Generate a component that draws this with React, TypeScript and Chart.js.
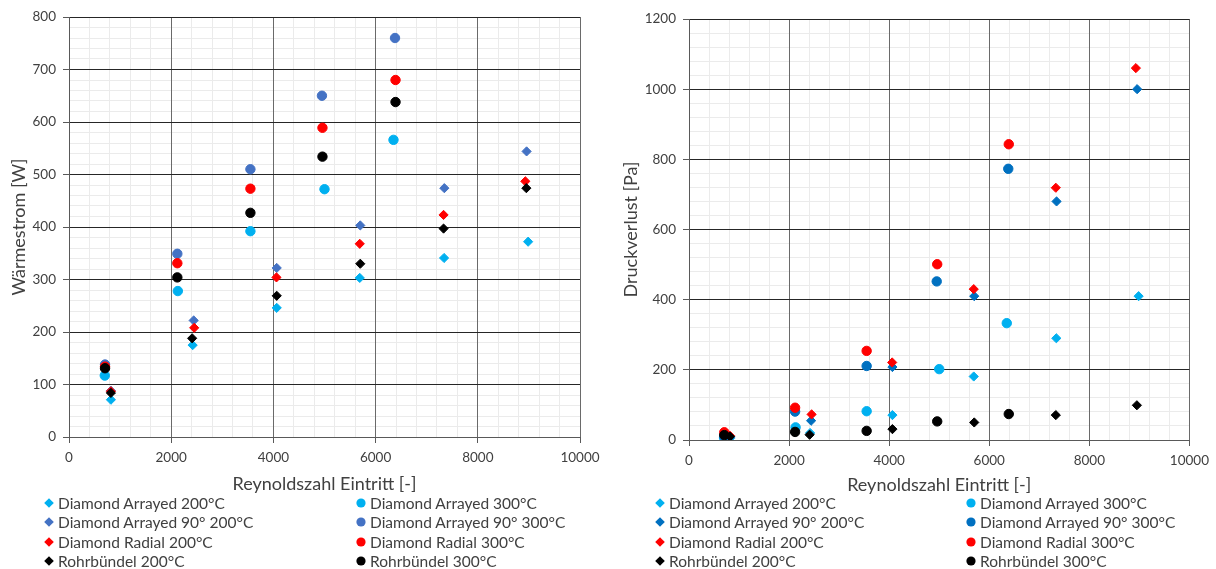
import React, { useEffect, useRef } from "react";
import { Chart, registerables } from "chart.js";

Chart.register(...registerables);

// ---------- data ----------
const SERIES_LABELS = [
  "Diamond Arrayed 200°C",
  "Diamond Arrayed 300°C",
  "Diamond Arrayed 90° 200°C",
  "Diamond Arrayed 90° 300°C",
  "Diamond Radial 200°C",
  "Diamond Radial 300°C",
  "Rohrbündel 200°C",
  "Rohrbündel 300°C",
];

// Reynoldszahl Eintritt per series
const RE_DA_200 = [820, 2420, 4065, 5690, 7340, 8985];
const RE_DA_300 = [700, 2130, 3550, 5000, 6350];
const RE_DA90_200 = [820, 2440, 4065, 5700, 7345, 8955];
const RE_DA90_300 = [705, 2120, 3550, 4950, 6380];
const RE_DR_200 = [820, 2450, 4060, 5690, 7330, 8930];
const RE_DR_300 = [705, 2120, 3550, 4960, 6390];
const RE_RB_200 = [820, 2410, 4065, 5700, 7330, 8950];
const RE_RB_300 = [705, 2120, 3550, 4960, 6390];

// Wärmestrom [W]
const HEAT_DA_200 = [71, 175, 246, 303, 341, 372];
const HEAT_DA_300 = [117, 278, 392, 472, 566];
const HEAT_DA90_200 = [88, 222, 322, 403, 474, 544];
const HEAT_DA90_300 = [138, 349, 510, 650, 760];
const HEAT_DR_200 = [87, 208, 304, 368, 423, 487];
const HEAT_DR_300 = [134, 331, 473, 589, 680];
const HEAT_RB_200 = [84, 188, 269, 330, 397, 474];
const HEAT_RB_300 = [131, 304, 427, 534, 638];

// Druckverlust [Pa]
const DP_DA_200 = [5, 20, 71, 181, 290, 410];
const DP_DA_300 = [6, 36, 82, 202, 333];
const DP_DA90_200 = [8, 55, 208, 410, 680, 1000];
const DP_DA90_300 = [10, 81, 211, 452, 773];
const DP_DR_200 = [12, 73, 221, 430, 719, 1060];
const DP_DR_300 = [22, 92, 254, 501, 843];
const DP_RB_200 = [10, 15, 31, 50, 71, 99];
const DP_RB_300 = [14, 23, 26, 53, 74];

const RE_SERIES = [RE_DA_200, RE_DA_300, RE_DA90_200, RE_DA90_300, RE_DR_200, RE_DR_300, RE_RB_200, RE_RB_300];
const HEAT_SERIES = [HEAT_DA_200, HEAT_DA_300, HEAT_DA90_200, HEAT_DA90_300, HEAT_DR_200, HEAT_DR_300, HEAT_RB_200, HEAT_RB_300];
const DP_SERIES = [DP_DA_200, DP_DA_300, DP_DA90_200, DP_DA90_300, DP_DR_200, DP_DR_300, DP_RB_200, DP_RB_300];

const X_TICK_MAJOR = 2000;
const X_TICK_MINOR = 400;
const X_MAX = 10000;

// ---------- styles ----------
const FONT = "Lato, 'Open Sans', sans-serif";
const TEXT = "#404040";
const CYAN = "#00B0F0";
const RED = "#FF0000";
const BLACK = "#000000";
const BLUE_LEFT = "#4472C4";
const BLUE_RIGHT = "#0070C0";
const MINOR_GRID = "#EBEBEB";

const colorsFor = (blue: string) => [CYAN, CYAN, blue, blue, RED, RED, BLACK, BLACK];
const styles = ["rectRot", "circle", "rectRot", "circle", "rectRot", "circle", "rectRot", "circle"];

type PanelCfg = {
  left: number;
  width: number;
  height: number;
  ySeries: number[][];
  yMax: number;
  yMajor: number;
  yMinor: number;
  yTitle: string;
  blue: string;
  padTop: number;
  padRight: number;
  yAxisWidth: number;
  xAxisHeight: number;
  yTitlePad: number;
  xTitlePadBottom: number;
};

function Panel({ cfg }: { cfg: PanelCfg }) {
  const ref = useRef<HTMLCanvasElement>(null);
  useEffect(() => {
    const colors = colorsFor(cfg.blue);
    const datasets = SERIES_LABELS.map((label, i) => ({
      label,
      data: RE_SERIES[i].map((x, j) => ({ x, y: cfg.ySeries[i][j] })),
      pointStyle: styles[i],
      pointRadius: styles[i] === "circle" ? 4.7 : 4.6,
      pointBorderWidth: 1,
      backgroundColor: colors[i],
      borderColor: colors[i],
      order: SERIES_LABELS.length - i,
      xAxisID: "x",
      yAxisID: "y",
    }));
    const tickFont = { family: FONT, size: 13.5 };
    const titleFont = { family: FONT, size: 18 };
    const chart = new Chart(ref.current as HTMLCanvasElement, {
      type: "scatter",
      data: { datasets } as any,
      options: {
        responsive: false,
        maintainAspectRatio: false,
        animation: false,
        layout: { padding: { top: cfg.padTop, right: cfg.padRight, left: 0, bottom: 0 } },
        plugins: { legend: { display: false }, tooltip: { enabled: false } },
        scales: {
          xMinor: {
            type: "linear",
            position: "bottom",
            min: 0,
            max: X_MAX,
            z: -2,
            ticks: { display: false, stepSize: X_TICK_MINOR, autoSkip: false },
            grid: { color: MINOR_GRID, drawTicks: false, lineWidth: 1 },
            border: { display: false },
            afterFit: (s: any) => {
              s.height = 0;
            },
          },
          yMinor: {
            type: "linear",
            position: "left",
            min: 0,
            max: cfg.yMax,
            z: -2,
            ticks: { display: false, stepSize: cfg.yMinor, autoSkip: false },
            grid: { color: MINOR_GRID, drawTicks: false, lineWidth: 1 },
            border: { display: false },
            afterFit: (s: any) => {
              s.width = 0;
            },
          },
          x: {
            type: "linear",
            position: "bottom",
            min: 0,
            max: X_MAX,
            z: -1,
            ticks: {
              stepSize: X_TICK_MAJOR,
              autoSkip: false,
              maxRotation: 0,
              padding: 7,
              color: TEXT,
              font: tickFont,
              callback: (v: any) => String(v),
            },
            grid: {
              color: "#6A6A6A",
              tickColor: "#595959",
              tickLength: 6,
              lineWidth: 1,
            },
            border: { color: "#595959", width: 1 },
            title: {
              display: true,
              text: "Reynoldszahl Eintritt [-]",
              color: TEXT,
              font: titleFont,
              padding: { top: 0, bottom: cfg.xTitlePadBottom },
            },
            afterFit: (s: any) => {
              s.height = cfg.xAxisHeight;
            },
          },
          y: {
            type: "linear",
            position: "left",
            min: 0,
            max: cfg.yMax,
            z: -1,
            ticks: {
              stepSize: cfg.yMajor,
              autoSkip: false,
              padding: 7,
              color: TEXT,
              font: tickFont,
              callback: (v: any) => String(v),
            },
            grid: {
              color: "#262626",
              tickColor: "#595959",
              tickLength: 6,
              lineWidth: 1,
            },
            border: { color: "#595959", width: 1 },
            title: {
              display: true,
              text: cfg.yTitle,
              color: TEXT,
              font: titleFont,
              padding: { top: cfg.yTitlePad, bottom: 0 },
            },
            afterFit: (s: any) => {
              s.width = cfg.yAxisWidth;
            },
          },
        },
      } as any,
    });
    return () => chart.destroy();
  }, []);
  return (
    <canvas
      ref={ref}
      width={cfg.width}
      height={cfg.height}
      style={{ position: "absolute", left: cfg.left, top: 0, width: cfg.width, height: cfg.height }}
    />
  );
}

function Marker({ style, color }: { style: string; color: string }) {
  return (
    <svg width={12} height={12} style={{ display: "block" }}>
      {style === "circle" ? (
        <circle cx={6} cy={6} r={4.6} fill={color} />
      ) : (
        <polygon points="6,1.2 10.8,6 6,10.8 1.2,6" fill={color} />
      )}
    </svg>
  );
}

const LEGEND_ROWS_Y = [503, 522, 541.5, 561];

function Legend({ colX, blue }: { colX: [number, number]; blue: string }) {
  const colors = colorsFor(blue);
  return (
    <>
      {SERIES_LABELS.map((label, i) => {
        const col = i % 2;
        const row = Math.floor(i / 2);
        const cy = LEGEND_ROWS_Y[row];
        return (
          <div
            key={label}
            style={{
              position: "absolute",
              left: colX[col] - 6,
              top: cy - 10,
              height: 20,
              display: "flex",
              alignItems: "center",
              whiteSpace: "nowrap",
              fontFamily: FONT,
              fontSize: 15.5,
              color: TEXT,
            }}
          >
            <Marker style={styles[i]} color={colors[i]} />
            <span style={{ marginLeft: 3 }}>{label}</span>
          </div>
        );
      })}
    </>
  );
}

const LEFT_CFG: PanelCfg = {
  left: 0,
  width: 608,
  height: 500,
  ySeries: HEAT_SERIES,
  yMax: 800,
  yMajor: 100,
  yMinor: 20,
  yTitle: "Wärmestrom [W]",
  blue: BLUE_LEFT,
  padTop: 17,
  padRight: 28,
  yAxisWidth: 69,
  xAxisHeight: 63,
  yTitlePad: 8,
  xTitlePadBottom: 5,
};

const RIGHT_CFG: PanelCfg = {
  left: 608,
  width: 608,
  height: 500,
  ySeries: DP_SERIES,
  yMax: 1200,
  yMajor: 200,
  yMinor: 40,
  yTitle: "Druckverlust [Pa]",
  blue: BLUE_RIGHT,
  padTop: 19,
  padRight: 22,
  yAxisWidth: 81,
  xAxisHeight: 60,
  yTitlePad: 12,
  xTitlePadBottom: 4,
};

export default function App() {
  return (
    <div
      style={{
        position: "absolute",
        left: 0,
        top: 0,
        width: 1216,
        height: 569,
        background: "#ffffff",
        overflow: "hidden",
      }}
    >
      <Panel cfg={LEFT_CFG} />
      <Panel cfg={RIGHT_CFG} />
      <Legend colX={[49, 361]} blue={BLUE_LEFT} />
      <Legend colX={[660, 971]} blue={BLUE_RIGHT} />
    </div>
  );
}
